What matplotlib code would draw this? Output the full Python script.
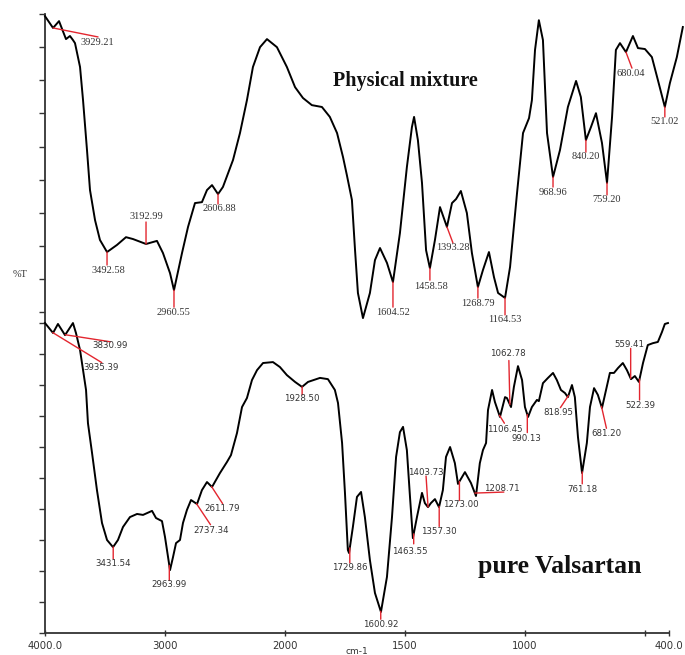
import numpy as np
import matplotlib
matplotlib.use("Agg")
import matplotlib.pyplot as plt

# ---------------- data ----------------
# Upper spectrum: Physical mixture (wavenumber cm-1, %T in chart units)
mix_wn = [4000, 3933, 3883, 3825, 3792, 3767, 3750, 3708, 3683, 3650, 3625, 3583, 3542,
          3483, 3400, 3325, 3267, 3158, 3067, 3017, 2958, 2925, 2858, 2808, 2750, 2692,
          2650, 2608, 2558, 2517, 2433, 2375, 2317, 2267, 2208, 2150, 2067, 1992, 1958,
          1925, 1888, 1846, 1813, 1783, 1758, 1742, 1721, 1708, 1696, 1675, 1646, 1625,
          1604, 1575, 1550, 1521, 1492, 1471, 1462, 1446, 1429, 1412, 1396, 1375, 1354,
          1325, 1304, 1287, 1267, 1242, 1221, 1196, 1175, 1150, 1129, 1112, 1083, 1062,
          1033, 1008, 983, 971, 958, 942, 925, 908, 883, 854, 821, 787, 767, 746, 725,
          704, 679, 658, 637, 621, 604, 579, 550, 529, 500, 471, 446, 417, 396, 367, 342]
mix_t = [199.0, 195.2, 197.4, 191.6, 192.6, 191.3, 190.3, 182.6, 171.9, 155.8, 142.9, 133.2, 126.8,
         122.9, 125.2, 127.7, 127.1, 125.5, 126.5, 122.6, 116.1, 110.6, 122.6, 131.0, 138.7, 139.0,
         142.9, 144.5, 141.6, 143.9, 152.6, 161.3, 171.9, 182.6, 189.0, 191.6, 189.0, 182.6, 176.1,
         172.6, 170.3, 169.7, 166.5, 161.3, 153.5, 147.7, 139.7, 123.5, 109.7, 101.6, 109.7, 120.3,
         124.2, 119.4, 113.2, 129.0, 150.3, 163.2, 166.5, 159.0, 145.2, 123.5, 117.7, 126.8, 137.4,
         131.0, 138.7, 140.0, 142.6, 135.5, 122.6, 111.6, 117.1, 122.9, 114.8, 109.7, 108.1, 118.1,
         141.9, 161.3, 166.1, 171.9, 188.1, 197.7, 191.3, 161.3, 147.1, 155.8, 169.7, 178.1, 172.9,
         159.0, 163.2, 167.7, 158.1, 145.2, 166.5, 188.1, 190.3, 187.4, 192.6, 188.7, 188.4, 185.8,
         178.4, 169.7, 177.4, 185.8, 195.5]

# Lower spectrum: pure Valsartan
val_wn = [4000, 3933, 3892, 3833, 3767, 3742, 3708, 3683, 3658, 3642, 3608, 3567, 3525, 3483,
          3433, 3392, 3350, 3292, 3233, 3183, 3108, 3075, 3025, 3000, 2975, 2958, 2933, 2908,
          2875, 2850, 2817, 2783, 2733, 2692, 2650, 2608, 2542, 2483, 2450, 2400, 2358, 2317,
          2275, 2233, 2183, 2100, 2042, 1992, 1958, 1929, 1904, 1854, 1821, 1792, 1779, 1762,
          1750, 1738, 1733, 1717, 1700, 1683, 1667, 1646, 1625, 1600, 1575, 1554, 1537, 1521,
          1508, 1492, 1479, 1467, 1450, 1429, 1417, 1404, 1392, 1375, 1358, 1342, 1329, 1312,
          1292, 1279, 1250, 1225, 1204, 1188, 1175, 1162, 1154, 1137, 1125, 1104, 1083, 1075,
          1058, 1046, 1029, 1012, 1000, 987, 971, 950, 942, 925, 904, 883, 867, 850, 833, 821,
          804, 792, 779, 762, 742, 729, 712, 696, 679, 662, 646, 629, 612, 592, 575, 558, 542,
          525, 508, 488, 467, 446, 429, 417, 404]
val_t = [100.0, 96.8, 99.7, 96.1, 100.0, 96.8, 91.3, 84.8, 78.4, 67.7, 58.1, 46.1, 35.5, 30.0,
         27.7, 30.0, 34.2, 37.4, 38.4, 38.1, 39.4, 37.1, 36.1, 31.0, 24.5, 20.3, 24.5, 29.0,
         30.0, 35.5, 39.7, 42.9, 41.6, 46.1, 48.7, 47.1, 51.6, 55.2, 57.4, 64.5, 72.9, 75.8,
         81.6, 84.8, 87.1, 87.4, 85.8, 83.2, 81.0, 79.4, 81.0, 82.3, 81.9, 78.4, 74.2, 61.3,
         45.2, 26.8, 25.8, 34.2, 43.9, 45.5, 37.4, 23.5, 12.9, 6.8, 18.1, 37.4, 56.8, 64.8,
         66.5, 59.0, 43.9, 30.6, 37.4, 45.2, 41.9, 40.6, 41.9, 43.2, 40.6, 46.1, 56.8, 60.0,
         54.8, 48.1, 51.9, 48.4, 44.2, 54.8, 59.0, 61.3, 71.9, 78.4, 74.5, 69.7, 76.1, 75.8,
         72.9, 79.4, 86.1, 81.6, 72.9, 69.7, 72.9, 75.2, 74.8, 80.6, 82.3, 83.9, 81.6, 78.4, 77.4, 76.1,
         80.0, 76.1, 63.2, 51.6, 61.3, 72.9, 79.0, 76.8, 72.6, 78.4, 83.9, 83.9, 85.5, 87.1, 84.8, 81.9, 82.9,
         81.0, 87.1, 92.9, 93.5, 93.9, 97.1, 99.7, 100.0]

# Peak labels (upper spectrum: drawn position, label text)
mix_peak_wn = [3933, 3483, 3158, 2925, 2558, 1550, 1396, 1325, 1196, 1083, 883, 746, 658, 579, 417]
mix_peak_lbl = ["3929.21", "3492.58", "3192.99", "2960.55", "2606.88", "1604.52", "1458.58",
                "1393.28", "1268.79", "1164.53", "968.96", "840.20", "759.20", "680.04", "521.02"]
# lower spectrum
val_peak_lbl = ["3935.39", "3830.99", "3431.54", "2963.99", "2737.34", "2611.79", "1928.50",
                "1729.86", "1600.92", "1463.55", "1403.73", "1357.30", "1273.00", "1208.71",
                "1106.45", "1062.78", "990.13", "818.95", "761.18", "681.20", "559.41", "522.39"]

x_ticks = [4000, 3000, 2000, 1500, 1000, 500, 400]
x_tick_labels = ["4000.0", "3000", "2000", "1500", "1000", "", "400.0"]

# ---------------- layout (pixel offsets: line end dx,dy ; text dx,dy) ----------------
mix_offsets = [(45, -9, 44, -15), (0, -13, 1, -18), (0, 22, 0, 27), (0, -17, 0, -22),
               (0, -10, 1, -14), (0, -25, 0, -30), (0, -12, 1, -18), (6, -16, 6, -21),
               (0, -11, 0, -16), (0, -17, 0, -22), (0, -10, 0, -15), (0, -12, 0, -16),
               (0, -12, 0, -17), (6, -16, 5, -21), (0, -10, 0, -15)]
val_offsets = [(49, -30, 48, -35), (45, -7, 45, -11), (0, -12, 0, -17), (0, -15, 0, -19),
               (14, -21, 15, -27), (11, -17, 11, -22), (0, -8, 0, -12), (0, -15, 0, -20),
               (0, -8, 0, -13), (0, -10, -4, -18), (-2, 31, -2, 35), (0, -20, 0, -25),
               (0, -19, 1, -23), (29, 1, 27, 5), (5, -8, 5, -14), (-1, 44, -2, 51),
               (0, -18, -1, -24), (-8, -12, -10, -17), (0, -12, 0, -18), (5, -22, 5, -27),
               (0, 30, -1, 34), (0, -21, 1, -26)]

RED = "#e3262f"
TXT = "#333333"

fig = plt.figure(figsize=(6.85, 6.55), dpi=100)
ax = fig.add_axes([45 / 685, 22 / 655, 640 / 685, 619 / 655])


def fwd(w):
    w = np.asarray(w, float)
    return np.where(w >= 2000, w, 2 * w - 2000)


def inv(u):
    u = np.asarray(u, float)
    return np.where(u >= 2000, u, (u + 2000) / 2)


ax.set_xscale("function", functions=(fwd, inv))
ax.set_xlim(4000, 333)
ax.set_ylim(0, 199.7)

ax.plot(mix_wn, mix_t, color="black", lw=1.4, clip_on=False, zorder=3,
        solid_joinstyle="round")
ax.plot(val_wn, val_t, color="black", lw=1.4, clip_on=False, zorder=3,
        solid_joinstyle="round")


def annotate(wn_arr, t_arr, pw, label, off, font, size):
    wn_inc = np.asarray(wn_arr, float)[::-1]
    t_inc = np.asarray(t_arr, float)[::-1]
    py = np.interp(pw, wn_inc, t_inc)
    ldx, ldy, tdx, tdy = off
    ax.annotate("", xy=(pw, py), xytext=(ldx, ldy), textcoords="offset pixels",
                xycoords="data",
                arrowprops=dict(arrowstyle="-", color=RED, lw=1.0, shrinkA=0, shrinkB=0),
                annotation_clip=False, zorder=4)
    ax.annotate(label, xy=(pw, py), xytext=(tdx, tdy), textcoords="offset pixels",
                ha="center", va="center", fontsize=size, family=font, color=TXT,
                annotation_clip=False, zorder=5)


for pw, lbl, off in zip(mix_peak_wn, mix_peak_lbl, mix_offsets):
    annotate(mix_wn, mix_t, pw, lbl, off, "Liberation Serif", 7.5)

for lbl, off in zip(val_peak_lbl, val_offsets):
    annotate(val_wn, val_t, float(lbl), lbl, off, "DejaVu Sans", 6.2)

# axes styling
for s in ["top", "right"]:
    ax.spines[s].set_visible(False)
for s in ["left", "bottom"]:
    ax.spines[s].set_color("#333333")
    ax.spines[s].set_linewidth(1.3)
ax.spines["bottom"].set_bounds(4000, 400)

ax.set_xticks(x_ticks)
ax.set_xticklabels(x_tick_labels)
ax.xaxis.set_minor_locator(matplotlib.ticker.NullLocator())
ax.tick_params(axis="x", direction="inout", length=5, width=1, color="#333333",
               labelsize=7.3, labelcolor=TXT, pad=3)
for t in ax.get_xticklabels():
    t.set_family("DejaVu Sans")

ax.set_yticks(list(np.arange(0, 101, 10)) + list(np.linspace(103.5, 199.7, 10)))
ax.set_yticklabels([])
ax.yaxis.set_minor_locator(matplotlib.ticker.NullLocator())
ax.tick_params(axis="y", direction="out", length=4, width=1, color="#333333")

# titles / labels
fig.text(333 / 685, 1 - 81 / 655, "Physical mixture", family="Liberation Serif",
         fontweight="bold", fontsize=14.5, ha="left", va="center", color="#111111")
fig.text(478 / 685, 1 - 566 / 655, "pure Valsartan", family="Liberation Serif",
         fontweight="bold", fontsize=18.5, ha="left", va="center", color="#111111")
fig.text(20 / 685, 1 - 274 / 655, "%T", family="Liberation Serif", fontsize=7.5,
         ha="center", va="center", color=TXT)
fig.text(357 / 685, 1 - 651 / 655, "cm-1", family="DejaVu Sans", fontsize=6.5,
         ha="center", va="center", color=TXT)

fig.savefig("out.png", dpi=100, facecolor="white")
